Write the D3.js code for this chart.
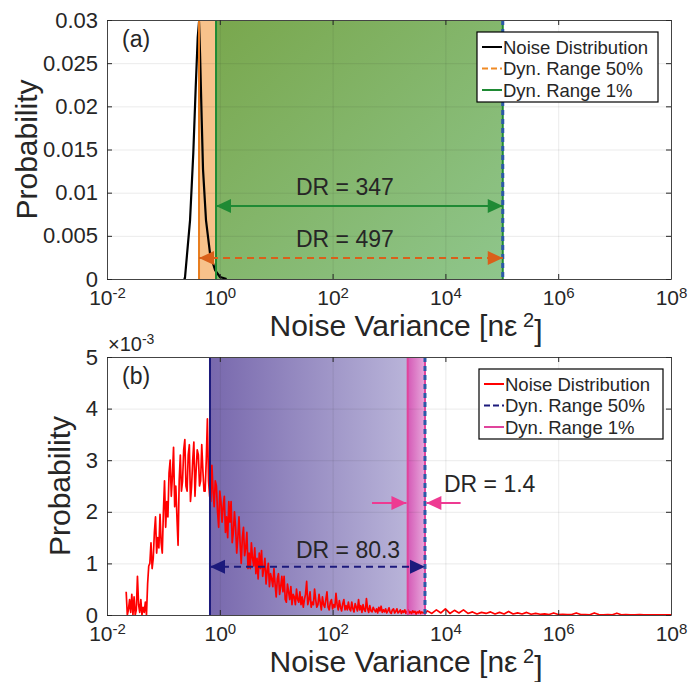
<!DOCTYPE html>
<html>
<head>
<meta charset="utf-8">
<script src="https://cdn.jsdelivr.net/npm/d3@7"></script>
<style>
  body { margin: 0; background: #fff; }
  svg { display: block; }
  text { font-family: "Liberation Sans", Arial, sans-serif; fill: #262626; }
</style>
</head>
<body>
<div id="chart"></div>
<script>
// ---- data ----
const xTickExp = [-2, 0, 2, 4, 6, 8];
const yTicksA = [0, 0.005, 0.01, 0.015, 0.02, 0.025, 0.03];
const yTickLabelsA = ["0", "0.005", "0.01", "0.015", "0.02", "0.025", "0.03"];
const yTicksB = [0, 1, 2, 3, 4, 5];          // x 10^-3
const yTickLabelsB = ["0", "1", "2", "3", "4", "5"];

// (a) noise distribution, black
const blackX = [0.23, 0.241, 0.297, 0.339, 0.374, 0.406, 0.428, 0.446, 0.478, 0.504, 0.569, 0.670, 0.822, 1.01, 1.32];
const blackY = [0, 0.0001, 0.00683, 0.0146, 0.0222, 0.0280, 0.0298, 0.0262, 0.0184, 0.0127, 0.00683, 0.0030, 0.00104, 0.00023, 0];

// (b) noise distribution, red histogram (probability x 10^-3), log10 bins
const redMainStart = -1.66, redMainStep = 0.02;
const redMain = [
  0.45, 0.0, 0.1, 0.3, 0.05, 0.4, 0.0, 0.35, 0.0, 0.1,
  0.75, 0.2, 0.05, 0.3, 0.0, 0.15, 0.05, 0.25, 0.0, 0.6,
  0.95, 1.0, 1.4, 0.9, 1.1, 1.6, 1.9, 1.2, 1.5, 1.3,
  1.95, 1.4, 1.2, 2.0, 2.6, 1.7, 2.2, 1.9, 2.75, 3.0,
  2.3, 2.7, 3.25, 2.1, 2.5, 1.9, 1.35, 2.6, 3.1, 2.4,
  2.6, 3.2, 3.4, 2.5, 2.4, 3.1, 3.3, 2.2, 2.5, 3.0,
  3.35, 2.3, 2.8, 3.2, 3.1, 2.5, 2.6, 3.3, 2.8, 2.4,
  2.4, 3.0, 3.8, 2.6, 2.3, 2.2, 2.9, 2.4, 2.1, 2.6,
  2.5, 2.0, 1.7, 2.4, 2.2, 1.8, 2.1, 2.3, 1.6, 1.9,
  1.5, 2.2, 1.8, 2.2, 1.4, 1.6, 2.0, 1.7, 1.2, 1.5,
  1.9, 1.4, 1.0, 1.5, 1.7, 1.15, 1.3, 1.6, 0.9, 1.2,
  0.9, 1.4, 1.1, 0.95, 1.3, 0.8, 1.1, 0.7, 1.2, 0.9,
  1.25, 0.75, 0.9, 1.1, 0.6, 0.85, 1.0, 0.55, 0.8, 0.7,
  0.55, 0.9, 0.6, 0.35, 0.7, 0.8, 0.4, 0.55, 0.75, 0.45,
  0.75, 0.3, 0.25, 0.6, 0.45, 0.3, 0.55, 0.2, 0.4, 0.35,
  0.2, 0.5, 0.3, 0.25, 0.45, 0.2, 0.35, 0.15, 0.3, 0.4,
  0.65, 0.2, 0.3, 0.45, 0.15, 0.25, 0.2, 0.5, 0.3, 0.15,
  0.2, 0.4, 0.25, 0.1, 0.35, 0.2, 0.15, 0.3, 0.45, 0.15,
  0.1, 0.25, 0.3, 0.12, 0.2, 0.15, 0.42, 0.2, 0.1, 0.28,
  0.15, 0.08, 0.22, 0.3, 0.1, 0.18, 0.1, 0.25, 0.12, 0.08,
  0.25, 0.12, 0.06, 0.22, 0.15, 0.08, 0.3, 0.1, 0.18, 0.05,
  0.2, 0.1, 0.07, 0.32, 0.12, 0.05, 0.18, 0.08, 0.06, 0.15,
  0.1, 0.06, 0.12, 0.04, 0.15, 0.08, 0.17, 0.05, 0.1, 0.06,
  0.12, 0.04, 0.08, 0.14, 0.05, 0.03, 0.1, 0.12, 0.04, 0.07,
  0.12, 0.04, 0.06, 0.1, 0.03, 0.08, 0.05, 0.1, 0.03, 0.07,
  0.1, 0.04, 0.06, 0.03, 0.08, 0.05, 0.07, 0.02, 0.06, 0.04,
  0.08, 0.03, 0.06, 0.04, 0.05, 0.03
];
const redTailStart = 3.68, redTailStep = 0.08;
const redTail = [
  0.08, 0.03, 0.1, 0.04, 0.12, 0.03, 0.09, 0.04, 0.1, 0.03,
  0.06, 0.02, 0.05, 0.03, 0.06, 0.02, 0.05, 0.02, 0.07, 0.02,
  0.04, 0.02, 0.05, 0.015, 0.03, 0.015, 0.02, 0.01, 0.04, 0.01,
  0.015, 0.01, 0.01, 0.04, 0.01, 0.01, 0.005, 0.04, 0.01, 0.005,
  0.01, 0.005, 0.035, 0.005, 0.01, 0.005, 0.005, 0.01, 0.005, 0.005,
  0.005, 0.005, 0.005, 0.005, 0.005
];

// dynamic range limits [start, end] in nε²
const dr50A = [0.428, 1.04e5];
const dr1A = [0.857, 1.04e5];
const dr50B = [0.67, 4345];
const dr1B = [2143, 4345];

const W = 694, H = 682;
const left = 107, right = 671;

const svg = d3.select("#chart").append("svg")
  .attr("width", W).attr("height", H);
const defs = svg.append("defs");

function gradient(id, stops, x2, y2) {
  const lg = defs.append("linearGradient").attr("id", id)
    .attr("x1", 0).attr("y1", 0).attr("x2", x2).attr("y2", y2);
  stops.forEach((c, i) => lg.append("stop")
    .attr("offset", i / (stops.length - 1)).attr("stop-color", c));
}
gradient("gGreen", ["#79a74d", "#8fc68c"], 1, 1);
gradient("gPurple", ["#7868ad", "#b9b4d9"], 1, 0);
gradient("gPink", ["#d459b6", "#e7a9dc"], 1, 0);

function drawPanel(p) {
  const x = d3.scaleLog().domain([1e-2, 1e8]).range([left, right]);
  const y = d3.scaleLinear().domain(p.yDomain).range([p.bottom, p.top]);
  const g = svg.append("g");
  const h = p.bottom - p.top;

  // shaded ranges
  g.append("rect")
    .attr("x", x(p.dr50[0])).attr("y", p.top)
    .attr("width", x(p.dr1[0]) - x(p.dr50[0])).attr("height", h)
    .attr("fill", p.band50);
  g.append("rect")
    .attr("x", x(p.dr1[0])).attr("y", p.top)
    .attr("width", x(p.dr1[1]) - x(p.dr1[0])).attr("height", h)
    .attr("fill", p.band1);

  // grid
  const xTicks = xTickExp.map(e => Math.pow(10, e));
  g.append("g")
    .attr("transform", `translate(0,${p.bottom})`)
    .call(d3.axisBottom(x).tickValues(xTicks).tickSize(-h).tickFormat(""))
    .call(a => a.select(".domain").remove())
    .selectAll("line").attr("stroke", "#000").attr("stroke-opacity", 0.09);
  g.append("g")
    .attr("transform", `translate(${left},0)`)
    .call(d3.axisLeft(y).tickValues(p.yTicks).tickSize(-(right - left)).tickFormat(""))
    .call(a => a.select(".domain").remove())
    .selectAll("line").attr("stroke", "#000").attr("stroke-opacity", 0.09);

  // distribution
  const line = d3.line().x(d => x(d[0])).y(d => y(d[1]));
  g.append("path")
    .datum(p.curve)
    .attr("d", line)
    .attr("fill", "none")
    .attr("stroke", p.curveColor)
    .attr("stroke-width", p.curveWidth)
    .attr("stroke-linejoin", "round");

  // range boundary lines
  [[p.dr50[0], p.line50], [p.dr1[0], p.line1], [p.dr1[1], p.line1]].forEach(([v, c]) => {
    g.append("line")
      .attr("x1", x(v)).attr("x2", x(v)).attr("y1", p.top).attr("y2", p.bottom)
      .attr("stroke", c).attr("stroke-width", 2);
  });
  g.append("line")
    .attr("x1", x(p.dr50[1])).attr("x2", x(p.dr50[1])).attr("y1", p.top).attr("y2", p.bottom)
    .attr("stroke", "#2b58a8").attr("stroke-width", 3).attr("stroke-dasharray", "5,4");

  // arrows
  p.arrows.forEach(a => {
    const x1 = x(a.from), x2 = x(a.to), yy = y(a.y);
    g.append("line")
      .attr("x1", x1).attr("x2", x2).attr("y1", yy).attr("y2", yy)
      .attr("stroke", a.color).attr("stroke-width", 2)
      .attr("stroke-dasharray", a.dashed ? "7,5" : null);
    a.heads.forEach(end => {
      const tip = end === "to" ? x2 : x1;
      const dir = (end === "to" ? 1 : -1) * Math.sign(x2 - x1);
      const base = tip - dir * 15;
      g.append("path")
        .attr("d", `M${tip},${yy}L${base},${yy - 7}L${base},${yy + 7}Z`)
        .attr("fill", a.color);
    });
  });
  p.labels.forEach(l => {
    g.append("text")
      .attr("x", x(l.x)).attr("y", y(l.y))
      .style("font-size", "23px")
      .text(l.text);
  });

  // axes with inward ticks
  const axisColor = "#262626";
  const bottomAxis = g.append("g")
    .attr("transform", `translate(0,${p.bottom})`)
    .call(d3.axisBottom(x).tickValues(xTicks).tickSizeInner(-5).tickSizeOuter(0).tickPadding(11));
  bottomAxis.selectAll(".tick text")
    .style("font-size", "21px")
    .attr("dy", "0.71em")
    .text(null)
    .call(t => t.append("tspan").text("10"))
    .call(t => t.append("tspan")
      .attr("dy", "-0.45em").style("font-size", "15px")
      .text(d => String(Math.round(Math.log10(d)))));
  g.append("g")
    .attr("transform", `translate(0,${p.top})`)
    .call(d3.axisTop(x).tickValues(xTicks).tickSizeInner(-5).tickSizeOuter(0).tickFormat(""));
  g.append("g")
    .attr("transform", `translate(${left},0)`)
    .call(d3.axisLeft(y).tickValues(p.yTicks).tickSizeInner(-5).tickSizeOuter(0).tickPadding(9)
      .tickFormat((d, i) => p.yTickLabels[i]))
    .selectAll(".tick text").style("font-size", "22px");
  g.append("g")
    .attr("transform", `translate(${right},0)`)
    .call(d3.axisRight(y).tickValues(p.yTicks).tickSizeInner(-5).tickSizeOuter(0).tickFormat(""));
  g.selectAll(".domain, .tick line").attr("stroke", axisColor);
  g.selectAll(".tick text").attr("fill", axisColor);
  g.selectAll(".domain").attr("stroke", "#444");

  // axis titles
  g.append("text")
    .attr("transform", `translate(${p.yTitleX},${(p.top + p.bottom) / 2}) rotate(-90)`)
    .attr("text-anchor", "middle")
    .style("font-size", "30px")
    .text("Probability");
  const xt = g.append("text")
    .attr("x", 406).attr("y", p.bottom + 57)
    .attr("text-anchor", "middle")
    .style("font-size", "30px");
  xt.append("tspan").text("Noise Variance [nε");
  xt.append("tspan").attr("dy", "-0.45em").style("font-size", "20px").text(" 2");
  xt.append("tspan").attr("dy", "0.45em").text("]");

  g.append("text")
    .attr("x", 122).attr("y", p.top + 27)
    .style("font-size", "23px")
    .text(p.tag);

  // legend
  const lg = g.append("g");
  lg.append("rect")
    .attr("x", p.legend.x).attr("y", p.legend.y)
    .attr("width", p.legend.w).attr("height", 70)
    .attr("fill", "#fff").attr("stroke", "#000").attr("stroke-width", 1.2);
  p.legend.items.forEach((it, i) => {
    const cy = p.legend.y + 15 + i * 21.5;
    lg.append("line")
      .attr("x1", p.legend.x + 5).attr("x2", p.legend.x + 25)
      .attr("y1", cy).attr("y2", cy)
      .attr("stroke", it.color).attr("stroke-width", 2)
      .attr("stroke-dasharray", it.dashed ? "6,3" : null);
    lg.append("text")
      .attr("x", p.legend.x + 26).attr("y", cy + 6.5)
      .style("font-size", "18.5px").attr("fill", "#000")
      .text(it.text);
  });
}

drawPanel({
  top: 20, bottom: 279,
  yDomain: [0, 0.03], yTicks: yTicksA, yTickLabels: yTickLabelsA,
  yTitleX: 37, tag: "(a)",
  curve: blackX.map((v, i) => [v, blackY[i]]),
  curveColor: "#000", curveWidth: 2.2,
  dr50: dr50A, dr1: dr1A,
  band50: "#f7c28b", band1: "url(#gGreen)",
  line50: "#e87d1e", line1: "#1f8a34",
  arrows: [
    { from: dr1A[0], to: dr1A[1], y: 0.00846, color: "#1f8a34", dashed: false, heads: ["from", "to"] },
    { from: dr50A[0], to: dr50A[1], y: 0.00243, color: "#d9601a", dashed: true, heads: ["from", "to"] }
  ],
  labels: [
    { x: 22.4, y: 0.00973, text: "DR = 347" },
    { x: 22.4, y: 0.0037, text: "DR = 497" }
  ],
  legend: {
    x: 477, y: 32, w: 181,
    items: [
      { text: "Noise Distribution", color: "#000", dashed: false },
      { text: "Dyn. Range 50%", color: "#f08a24", dashed: true },
      { text: "Dyn. Range 1%", color: "#1f8a34", dashed: false }
    ]
  }
});

const redCurve = redMain.map((v, i) => [Math.pow(10, redMainStart + i * redMainStep), v])
  .concat(redTail.map((v, i) => [Math.pow(10, redTailStart + i * redTailStep), v]));

drawPanel({
  top: 357, bottom: 615,
  yDomain: [0, 5], yTicks: yTicksB, yTickLabels: yTickLabelsB,
  yTitleX: 70, tag: "(b)",
  curve: redCurve,
  curveColor: "#ff0000", curveWidth: 1.7,
  dr50: dr50B, dr1: dr1B,
  band50: "url(#gPurple)", band1: "url(#gPink)",
  line50: "#1c1a7c", line1: "#e0449c",
  arrows: [
    { from: dr50B[0], to: dr50B[1], y: 0.936, color: "#1c1a7c", dashed: true, heads: ["from", "to"] },
    { from: 500, to: 2040, y: 2.17, color: "#ee3a92", dashed: false, heads: ["to"] },
    { from: 1.86e4, to: 4600, y: 2.17, color: "#ee3a92", dashed: false, heads: ["to"] }
  ],
  labels: [
    { x: 22.4, y: 1.105, text: "DR = 80.3" },
    { x: 9440, y: 2.38, text: "DR = 1.4" }
  ],
  legend: {
    x: 479, y: 369, w: 184,
    items: [
      { text: "Noise Distribution", color: "#ff0000", dashed: false },
      { text: "Dyn. Range 50%", color: "#1c1a7c", dashed: true },
      { text: "Dyn. Range 1%", color: "#e0449c", dashed: false }
    ]
  }
});

// exponent multiplier for panel (b)
const mult = svg.append("text").attr("x", 108).attr("y", 351).style("font-size", "20px");
mult.append("tspan").text("×10");
mult.append("tspan").attr("dy", "-0.5em").style("font-size", "14px").text("-3");
</script>
</body>
</html>
